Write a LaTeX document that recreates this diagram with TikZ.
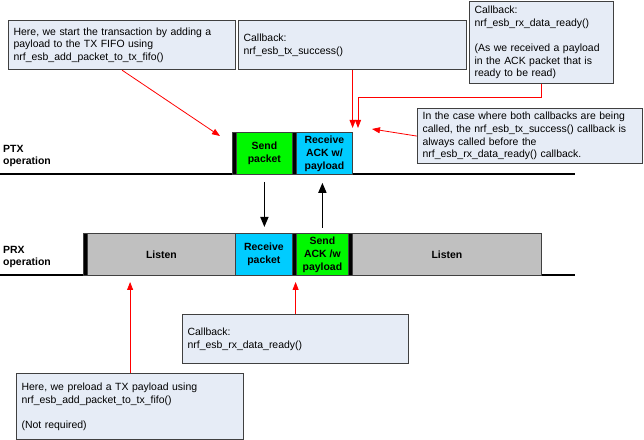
\documentclass[tikz,border=0pt]{standalone}
\usepackage{fontspec}
\setmainfont{Liberation Sans}
\usetikzlibrary{arrows.meta}
\definecolor{notefill}{HTML}{E6ECF6}
\definecolor{noteline}{HTML}{404040}
\definecolor{sendgreen}{HTML}{00F800}
\definecolor{rxblue}{HTML}{00CCFF}
\definecolor{listengray}{HTML}{C0C0C0}
\begin{document}
\begin{tikzpicture}[x=1bp,y=-1bp,
  note/.style={draw=noteline, fill=notefill, line width=1.2bp, rectangle, anchor=north west,
    inner xsep=5bp, inner ysep=0bp, align=left, font=\fontsize{10.5}{12.6}\selectfont},
  block/.style={draw=noteline, line width=0.8bp, rectangle, anchor=north west, inner sep=0pt,
    minimum height=42bp, align=center, font=\bfseries\fontsize{10.5}{13}\selectfont},
  bar/.style={block, fill=black, minimum width=4bp},
  lbl/.style={anchor=west, align=left, inner sep=0pt, font=\bfseries\fontsize{10.5}{13}\selectfont},
  timeline/.style={line width=1.2bp, draw=black},
  blackarrow/.style={line width=1.5bp, -{Triangle[length=10bp,width=8bp]}},
  redarrow/.style={draw=red, line width=0.8bp, -{Triangle[length=8bp,width=6bp]}}
]
\useasboundingbox (0,0) rectangle (644,440);

% notes
\node[note, text width=217bp, minimum height=49bp] (n1) at (8,20)
  {Here, we start the transaction by adding a\\payload to the TX FIFO using\\nrf\_esb\_add\_packet\_to\_tx\_fifo()};
\node[note, text width=218bp, minimum height=49bp] (n2) at (238,20)
  {Callback:\\nrf\_esb\_tx\_success()};
\node[note, text width=134bp, minimum height=82bp] (n3) at (469,1)
  {Callback:\\nrf\_esb\_rx\_data\_ready()\\[12.6bp](As we received a payload\\in the ACK packet that is\\ready to be read)};
\node[note, text width=215bp, minimum height=55bp] (n4) at (417,108)
  {In the case where both callbacks are being\\called, the nrf\_esb\_tx\_success() callback is\\always called before the\\nrf\_esb\_rx\_data\_ready() callback.};
\node[note, text width=216bp, minimum height=49bp] (n6) at (182,314)
  {Callback:\\nrf\_esb\_rx\_data\_ready()};
\node[note, text width=217bp, minimum height=66bp] (n5) at (16,373)
  {Here, we preload a TX payload using\\nrf\_esb\_add\_packet\_to\_tx\_fifo()\\[12.6bp](Not required)};

% timelines
\coordinate (ptxl) at (0,174);
\coordinate (ptxr) at (575,174);
\coordinate (prxl) at (0,275);
\coordinate (prxr) at (575,275);
\draw[timeline] (ptxl) -- (ptxr);
\draw[timeline] (prxl) -- (prxr);
\node[lbl] (ptxlbl) at (3,156) {PTX\\operation};
\node[lbl] (prxlbl) at (3,257) {PRX\\operation};

% PTX blocks
\node[bar] (ptxbar1) at (232,132) {};
\node[block, fill=sendgreen, minimum width=56bp] (ptxsend) at (236,132) {Send\\packet};
\node[bar] (ptxbar2) at (292,132) {};
\node[block, fill=rxblue, minimum width=56bp] (ptxrecv) at (296,132) {Receive\\ACK w/\\payload};

% PRX blocks
\node[bar] (prxbar1) at (83,233) {};
\node[block, fill=listengray, minimum width=148bp] (prxlisten1) at (87,233) {Listen};
\node[block, fill=rxblue, minimum width=57bp] (prxrecv) at (235,233) {Receive\\packet};
\node[bar] (prxbar2) at (292,233) {};
\node[block, fill=sendgreen, minimum width=52bp] (prxsend) at (296,233) {Send\\ACK /w\\payload};
\node[bar] (prxbar3) at (348,233) {};
\node[block, fill=listengray, minimum width=189bp] (prxlisten2) at (352,233) {Listen};

% black arrows
\draw[blackarrow, shorten <=7bp, shorten >=6bp] (ptxsend.south) -- (ptxsend.south |- prxrecv.north);
\draw[blackarrow, shorten <=5bp, shorten >=8bp] (prxsend.north) -- (prxsend.north |- ptxrecv.south);

% red arrows
\coordinate (t1) at (220,136);
\coordinate (t2) at (352,128);
\coordinate (t3) at (358,128);
\coordinate (t4) at (372,129);
\coordinate (t5) at (0,282);
\draw[redarrow] (n1.south) -- (t1);
\draw[redarrow] (n2.south) -- (n2.south |- t2);
\draw[redarrow] (n3.south) -- ++(0,13) -| (t3);
\draw[redarrow] (n4.west) -- (t4);
\draw[redarrow] (n5.north) -- (n5.north |- t5);
\draw[redarrow] (n6.north) -- (n6.north |- t5);
\end{tikzpicture}
\end{document}
